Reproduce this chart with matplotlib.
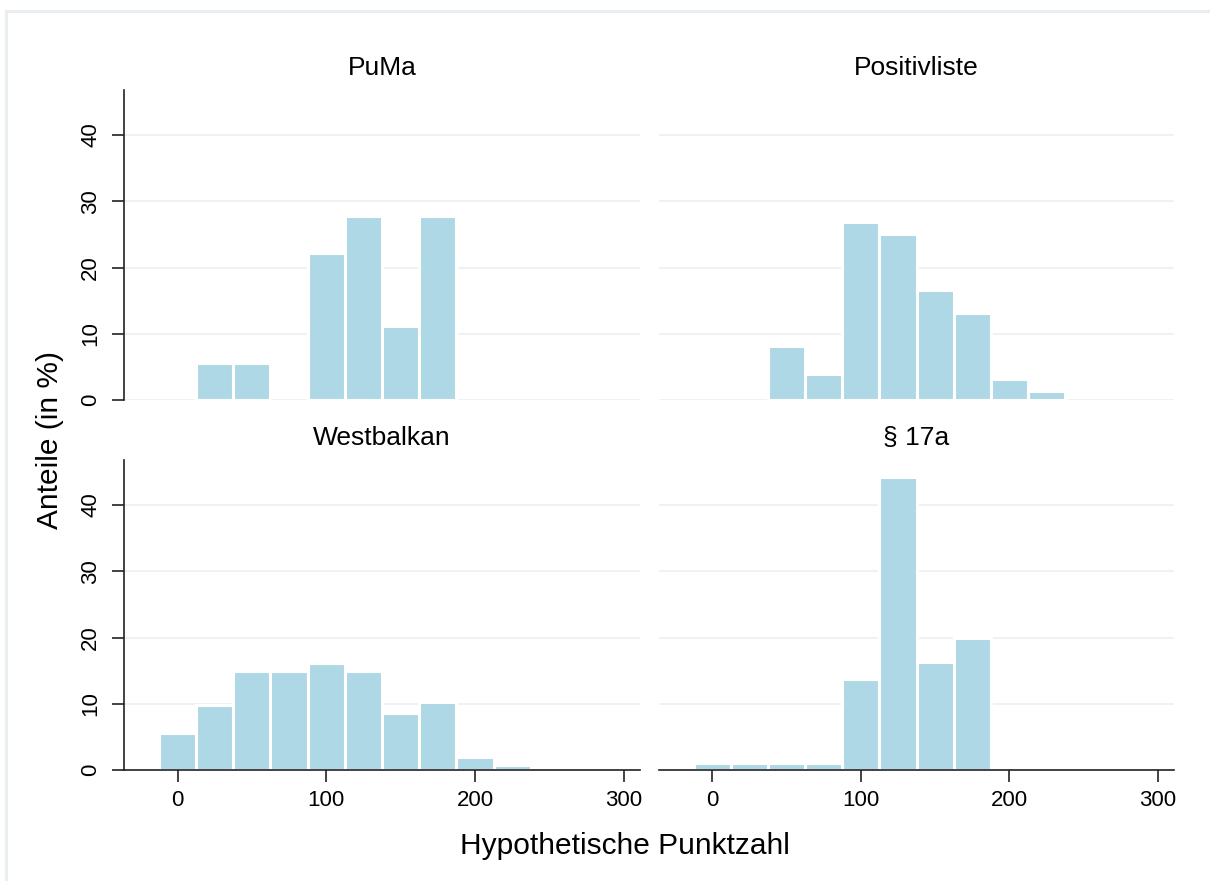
import numpy as np
import matplotlib
matplotlib.use("Agg")
import matplotlib.pyplot as plt
from matplotlib.lines import Line2D

plt.rcParams['font.family'] = ['Liberation Sans', 'DejaVu Sans']

# Histogramm-Daten (Balkenmitte, Breite 25 Punkte)
bin_mid = [0, 25, 50, 75, 100, 125, 150, 175, 200, 225]
puma = [0, 5.56, 5.56, 0, 22.2, 27.8, 11.1, 27.8, 0, 0]
positivliste = [0, 0, 8.1, 4.0, 26.8, 25.1, 16.6, 13.2, 3.1, 1.35]
westbalkan = [5.6, 9.8, 14.9, 14.9, 16.1, 14.9, 8.6, 10.2, 2.0, 0.8]
para17a = [1.0, 1.0, 1.0, 1.0, 13.7, 44.3, 16.3, 19.9, 0, 0]

titles = ["PuMa", "Positivliste", "Westbalkan", "§ 17a"]
series = [puma, positivliste, westbalkan, para17a]
xticks = [0, 100, 200, 300]
yticks = [0, 10, 20, 30, 40]

bar_color = "#AED8E5"
grid_color = "#EAF1F4"
axis_color = "#222222"

W, H = 1210, 881
fig = plt.figure(figsize=(W / 100, H / 100), dpi=100)

# Panel-Positionen in Pixeln: (links, rechts, oben, unten)
cols = [(124, 640), (659, 1174)]
rows = [(90, 400), (460, 770)]


def px_axes(c, r):
    l, rr = cols[c]
    t, b = rows[r]
    return fig.add_axes([l / W, 1 - b / H, (rr - l) / W, (b - t) / H])


for i in range(4):
    r, c = divmod(i, 2)
    ax = px_axes(c, r)
    vals = np.array(series[i])
    mids = np.array(bin_mid)
    keep = vals > 0
    ax.bar(mids[keep], vals[keep], width=25, color=bar_color,
           edgecolor="white", linewidth=2.2, zorder=2)
    ax.set_xlim(-36, 311)
    ax.set_ylim(0, 46.8)
    ax.set_yticks(yticks)
    ax.set_xticks(xticks)
    for y in yticks:
        ax.axhline(y, color=grid_color, lw=1.3, zorder=1)
    for s in ax.spines.values():
        s.set_visible(False)
    ax.tick_params(axis="both", length=8.5, width=1.2, color=axis_color,
                   labelsize=16, labelcolor="black")
    if c == 0:
        ax.spines["left"].set_visible(True)
        ax.spines["left"].set_color(axis_color)
        ax.spines["left"].set_linewidth(1.2)
        ax.tick_params(axis="y", pad=8)
        for lab in ax.get_yticklabels():
            lab.set_rotation(90)
            lab.set_va("center")
    else:
        ax.tick_params(axis="y", left=False, labelleft=False)
    if r == 1:
        ax.spines["bottom"].set_visible(True)
        ax.spines["bottom"].set_color(axis_color)
        ax.spines["bottom"].set_linewidth(1.2)
        ax.tick_params(axis="x", pad=6)
    else:
        ax.tick_params(axis="x", bottom=False, labelbottom=False)
    l, rr = cols[c]
    ty = 68 if r == 0 else 438
    fig.text((l + rr) / 2 / W, 1 - ty / H, titles[i], ha="center",
             va="center", fontsize=19)

fig.text(625 / W, 1 - 846 / H, "Hypothetische Punktzahl", ha="center",
         va="center", fontsize=21.5)
fig.text(50 / W, 1 - 440 / H, "Anteile (in %)", ha="center", va="center",
         rotation=90, fontsize=21.5)

# heller Rahmen oben und links
fig.add_artist(Line2D([6 / W, 1], [1 - 11 / H, 1 - 11 / H], color="#E8EEF1",
                      lw=2.2, transform=fig.transFigure))
fig.add_artist(Line2D([6 / W, 6 / W], [0, 1 - 11 / H], color="#E8EEF1",
                      lw=2.2, transform=fig.transFigure))

fig.savefig("out.png", dpi=100, facecolor="white")
